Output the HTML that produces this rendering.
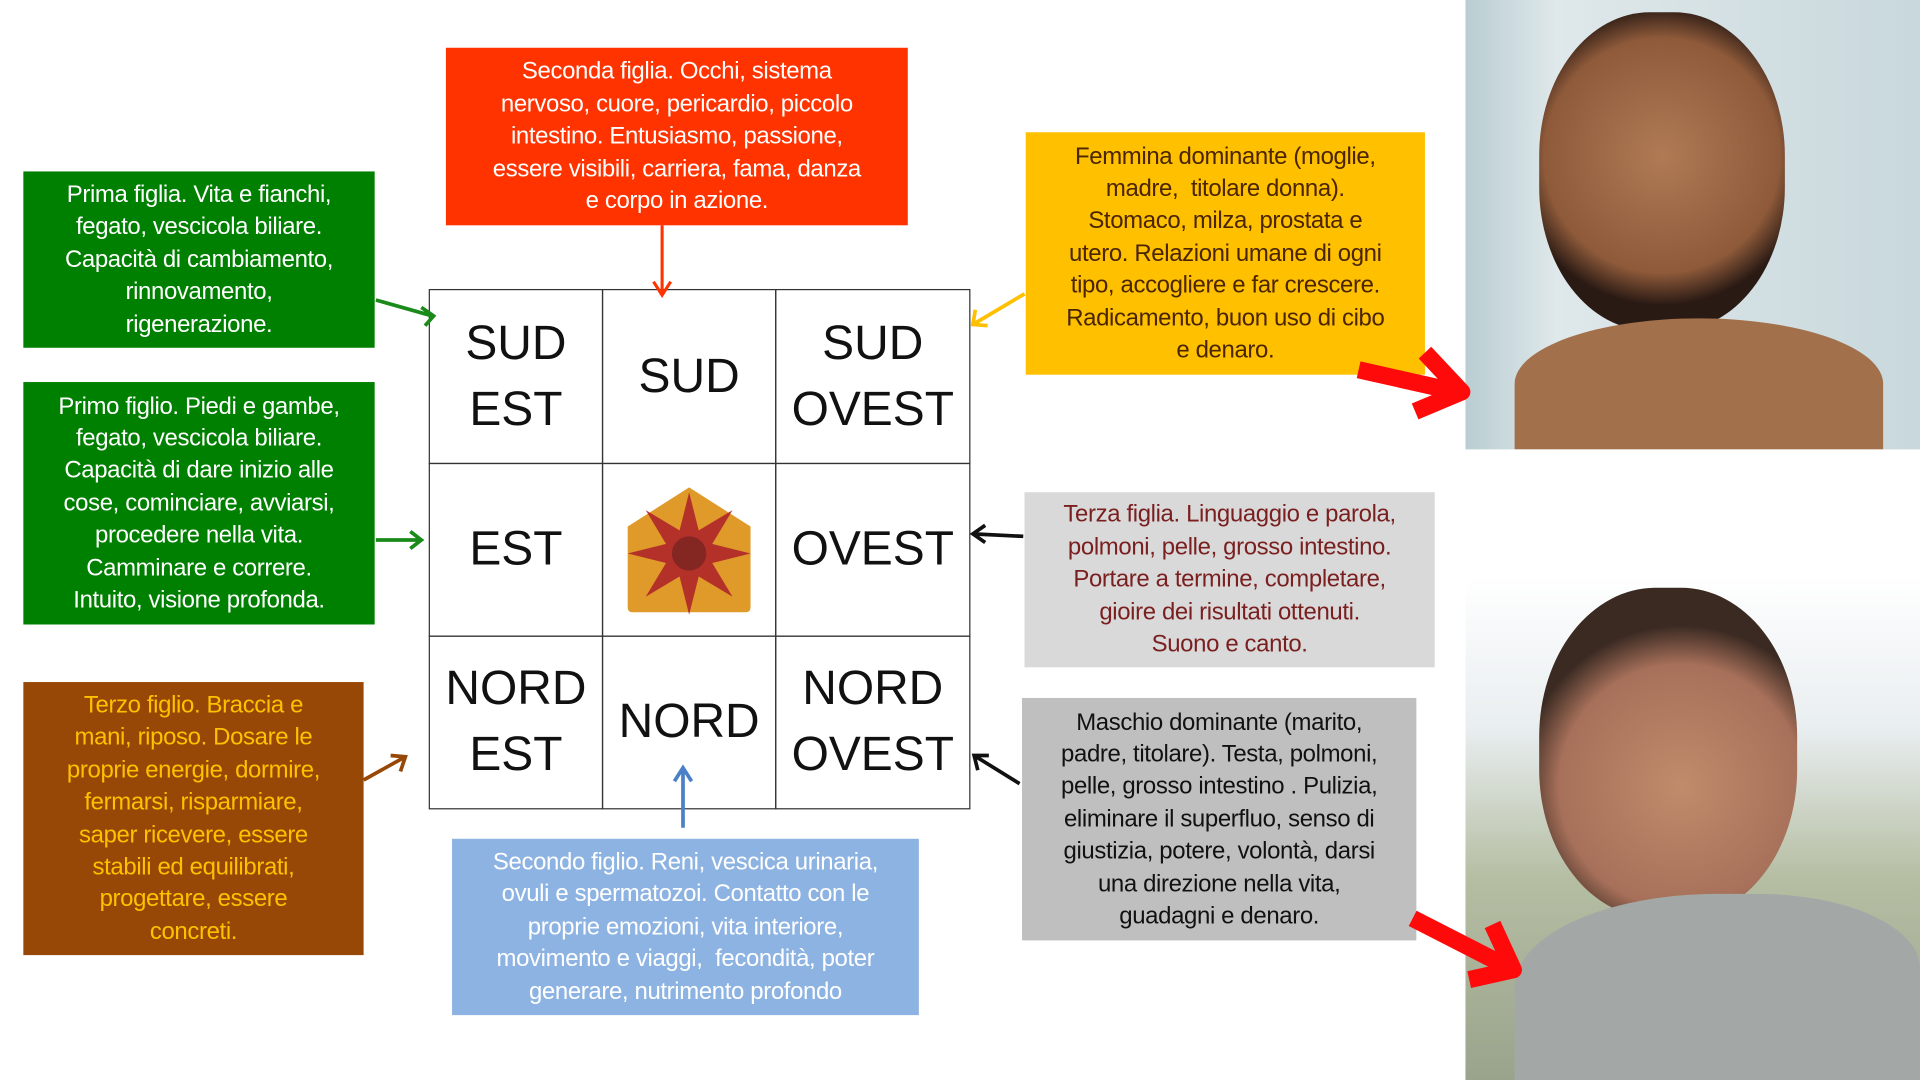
<!DOCTYPE html>
<html><head><meta charset="utf-8"><style>
html,body{margin:0;padding:0;background:#fff;overflow:hidden;width:1920px;height:1080px}
#w{position:absolute;left:0;top:0;width:1563px;height:882px;transform:scale(1.2284,1.2245);transform-origin:0 0;font-family:"Liberation Sans",sans-serif}
.b{position:absolute;box-sizing:border-box;text-align:center;font-size:19.5px;line-height:26.4px;display:flex;align-items:center;justify-content:center;padding:0;white-space:nowrap;letter-spacing:-0.3px}
.c{position:absolute;box-sizing:border-box;border:1px solid #333;display:flex;align-items:center;justify-content:center;text-align:center;font-size:39px;line-height:54px;color:#111}
</style></head><body><div id="w">
<div class="b" style="left:363px;top:39px;width:376px;height:145px;background:#ff3300;color:#fff">Seconda figlia. Occhi, sistema<br>nervoso, cuore, pericardio, piccolo<br>intestino. Entusiasmo, passione,<br>essere visibili, carriera, fama, danza<br>e corpo in azione.</div>
<div class="b" style="left:19px;top:140px;width:286px;height:144px;background:#008000;color:#fff">Prima figlia. Vita e fianchi,<br>fegato, vescicola biliare.<br>Capacità di cambiamento,<br>rinnovamento,<br>rigenerazione.</div>
<div class="b" style="left:19px;top:312px;width:286px;height:198px;background:#008000;color:#fff">Primo figlio. Piedi e gambe,<br>fegato, vescicola biliare.<br>Capacità di dare inizio alle<br>cose, cominciare, avviarsi,<br>procedere nella vita.<br>Camminare e correre.<br>Intuito, visione profonda.</div>
<div class="b" style="left:19px;top:557px;width:277px;height:223px;background:#974806;color:#ffc000">Terzo figlio. Braccia e<br>mani, riposo. Dosare le<br>proprie energie, dormire,<br>fermarsi, risparmiare,<br>saper ricevere, essere<br>stabili ed equilibrati,<br>progettare, essere<br>concreti.</div>
<div class="b" style="left:368px;top:685px;width:380px;height:144px;background:#8db3e2;color:#fff">Secondo figlio. Reni, vescica urinaria,<br>ovuli e spermatozoi. Contatto con le<br>proprie emozioni, vita interiore,<br>movimento e viaggi,&nbsp; fecondità, poter<br>generare, nutrimento profondo</div>
<div class="b" style="left:835px;top:108px;width:325px;height:198px;background:#ffc000;color:#4a2500">Femmina dominante (moglie,<br>madre,&nbsp; titolare donna).<br>Stomaco, milza, prostata e<br>utero. Relazioni umane di ogni<br>tipo, accogliere e far crescere.<br>Radicamento, buon uso di cibo<br>e denaro.</div>
<div class="b" style="left:834px;top:402px;width:334px;height:143px;background:#d9d9d9;color:#7a1f1f">Terza figlia. Linguaggio e parola,<br>polmoni, pelle, grosso intestino.<br>Portare a termine, completare,<br>gioire dei risultati ottenuti.<br>Suono e canto.</div>
<div class="b" style="left:832px;top:570px;width:321px;height:198px;background:#bfbfbf;color:#111">Maschio dominante (marito,<br>padre, titolare). Testa, polmoni,<br>pelle, grosso intestino . Pulizia,<br>eliminare il superfluo, senso di<br>giustizia, potere, volontà, darsi<br>una direzione nella vita,<br>guadagni e denaro.</div>

<div class="c" style="left:349px;top:236px;width:142px;height:143px">SUD<br>EST</div>
<div class="c" style="left:490px;top:236px;width:142px;height:143px">SUD</div>
<div class="c" style="left:631px;top:236px;width:159px;height:143px">SUD<br>OVEST</div>
<div class="c" style="left:349px;top:378px;width:142px;height:142px">EST</div>
<div class="c" style="left:490px;top:378px;width:142px;height:142px">
<svg width="104" height="106" viewBox="0 0 104 106"><path d="M52 2 L102 34 L102 100 Q102 104 98 104 L6 104 Q2 104 2 100 L2 34 Z" fill="#e09a2a"/>
<g fill="#b0262a" opacity=".9" transform="translate(52,56)"><path d="M0-50 L10-10 L0 0 L-10-10Z"/><path d="M0-50 L10-10 L0 0 L-10-10Z" transform="rotate(45)"/><path d="M0-50 L10-10 L0 0 L-10-10Z" transform="rotate(90)"/><path d="M0-50 L10-10 L0 0 L-10-10Z" transform="rotate(135)"/><path d="M0-50 L10-10 L0 0 L-10-10Z" transform="rotate(180)"/><path d="M0-50 L10-10 L0 0 L-10-10Z" transform="rotate(225)"/><path d="M0-50 L10-10 L0 0 L-10-10Z" transform="rotate(270)"/><path d="M0-50 L10-10 L0 0 L-10-10Z" transform="rotate(315)"/><circle r="14" fill="#7a1a22"/></g></svg></div>
<div class="c" style="left:631px;top:378px;width:159px;height:142px">OVEST</div>
<div class="c" style="left:349px;top:519px;width:142px;height:142px">NORD<br>EST</div>
<div class="c" style="left:490px;top:519px;width:142px;height:142px">NORD</div>
<div class="c" style="left:631px;top:519px;width:159px;height:142px">NORD<br>OVEST</div>

<div style="position:absolute;left:1193px;top:0;width:370px;height:367px;overflow:hidden;background:linear-gradient(90deg,#b9cdd2 0%,#dfe8ea 20%,#c8d8dc 100%)">
<div style="position:absolute;left:60px;top:10px;width:200px;height:260px;border-radius:45%;background:radial-gradient(circle at 50% 45%,#b07a55 0,#8e5a3a 55%,#2a1a14 70%)"></div>
<div style="position:absolute;left:40px;top:260px;width:300px;height:107px;border-radius:50% 50% 0 0;background:#a3704c"></div></div>
<div style="position:absolute;left:1193px;top:470px;width:370px;height:412px;overflow:hidden;background:linear-gradient(180deg,#fff 0%,#e9eef0 30%,#b5bea3 60%,#9aa48c 100%)">
<div style="position:absolute;left:60px;top:10px;width:210px;height:270px;border-radius:45%;background:radial-gradient(circle at 55% 60%,#c08b6b 0,#a7705a 50%,#3a2a22 66%)"></div>
<div style="position:absolute;left:40px;top:260px;width:330px;height:152px;border-radius:50% 40% 0 0;background:#a3a8a6"></div></div>

<svg style="position:absolute;left:0;top:0" width="1563" height="882">
<g fill="none" stroke-width="3">
<path d="M306 245 L352 258 M343 251 L353 258 L346 266" stroke="#1a8a1a"/>
<path d="M306 441 L343 441 M334 434 L343 441 L334 448" stroke="#1a8a1a"/>
<path d="M296 637 L330 618 M318 617 L330 618 L326 630" stroke="#974806"/>
<path d="M539 184 L539 240 M532 230 L539 241 L546 230" stroke="#ff3300" stroke-width="2.5"/>
<path d="M556 676 L556 628 M549 638 L556 627 L563 638" stroke="#4a80c8"/>
<path d="M834 240 L792 265 M794 253 L792 265 L804 266" stroke="#ffc000"/>
<path d="M833 438 L792 436 M802 429 L792 436 L802 443" stroke="#111"/>
<path d="M830 640 L793 617 M796 629 L793 617 L805 617" stroke="#111"/>
<path d="M1106 302 L1186 320 M1160 288 L1190 320 L1152 336" stroke="#ff0a0a" stroke-width="14" stroke-linejoin="round"/>
<path d="M1150 750 L1228 790 M1215 755 L1232 792 L1196 800" stroke="#ff0a0a" stroke-width="14" stroke-linejoin="round"/>
</g></svg>
</div></body></html>
